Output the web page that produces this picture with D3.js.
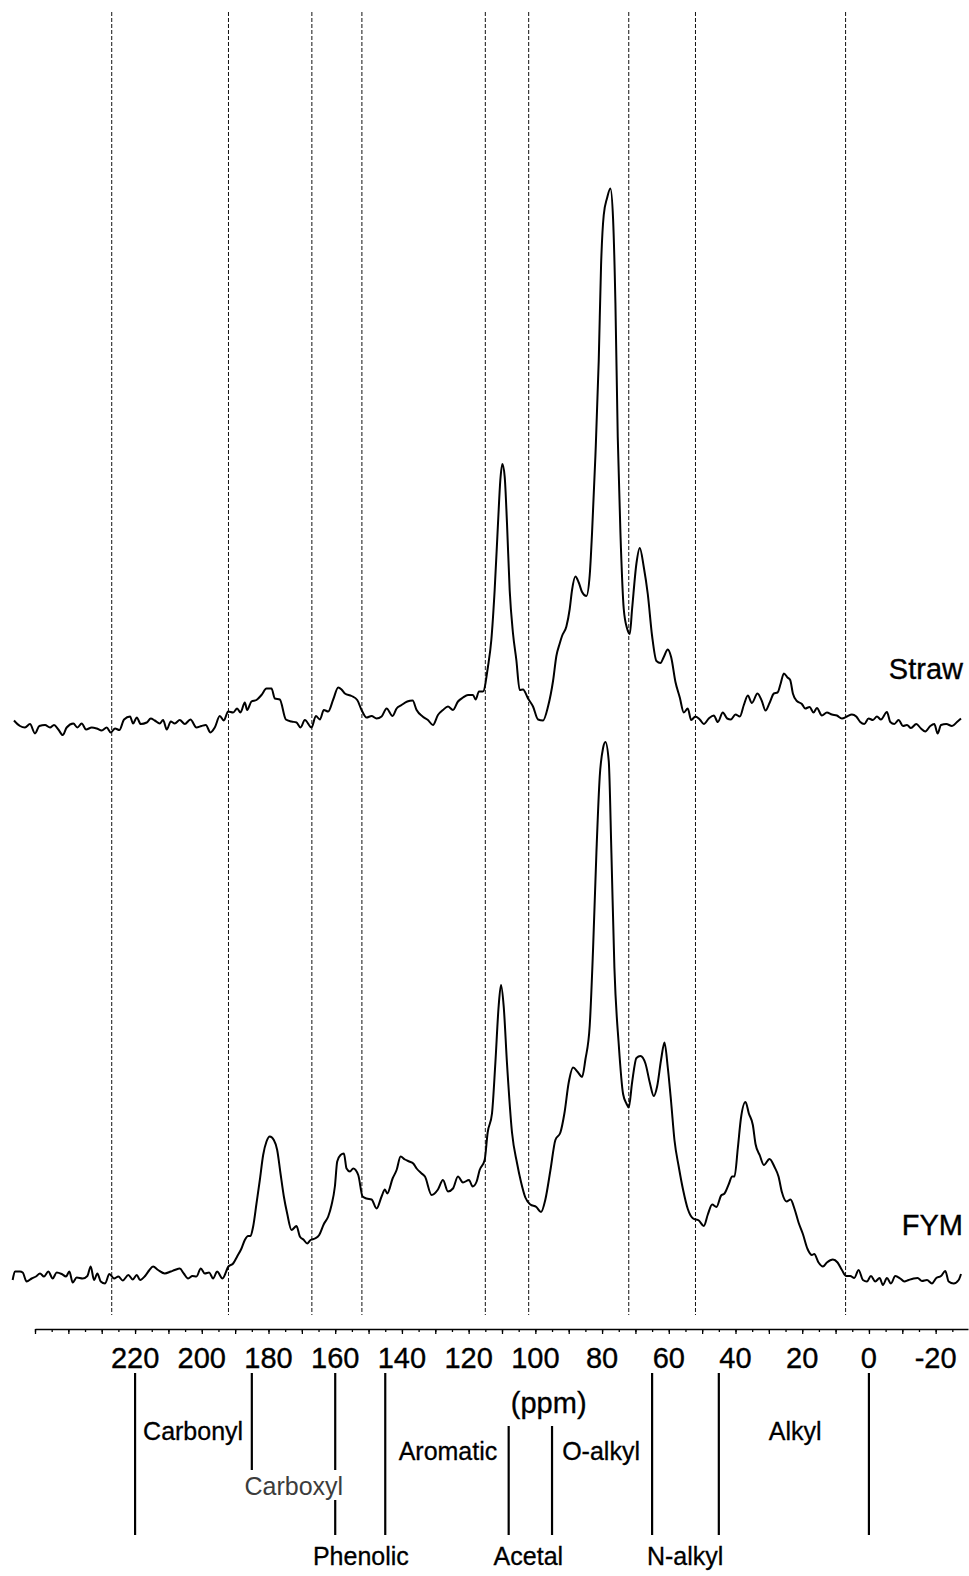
<!DOCTYPE html>
<html><head><meta charset="utf-8">
<script src="https://cdn.jsdelivr.net/npm/d3@7"></script>
<style>html,body{margin:0;padding:0;background:#fff}</style>
</head><body>
<svg id="chart" width="969" height="1576"></svg>
<script>
// ---------- data ----------
const tickLabels = [220,200,180,160,140,120,100,80,60,40,20,0,-20];
const regionBounds = [220,185,160,145,108,95,65,45,0];
const regionNames = ["Carbonyl","Carboxyl","Phenolic","Aromatic","Acetal","O-alkyl","N-alkyl","Alkyl"];
const regionLabelPpm = [202.6,172.4,152.3,126.2,102.1,80.3,55.1,22.1];
const seriesNames = ["Straw","FYM"];
const seriesOffsets = [110, 0];
const spectrumShift = 7;

const straw = [[249.3,1.9],[247.5,0.8],[246.0,0.5],[244.5,1.2],[243.0,-0.7],[241.7,0.8],[240.0,1.0],[238.5,0.5],[237.3,1.0],[236.0,0.1],[234.7,-1.0],[233.5,0.5],[231.5,1.3],[230.3,0.5],[229.0,1.3],[227.7,0.1],[226.0,0.5],[224.5,0.3],[223.0,-0.1],[221.5,0.5],[220.3,-0.5],[219.0,0.3],[217.7,0],[216.3,2.1],[214.5,2.7],[213.6,1.3],[212.5,2.5],[211.3,1.2],[209.5,1.5],[208.3,2.3],[207.1,1.9],[205.6,1.3],[204.6,2.0],[203.5,0.1],[202.3,1.7],[201.1,1.3],[199.6,2.0],[198.1,1.2],[196.4,2.1],[194.6,0.5],[193.1,0.8],[191.8,1.0],[190.4,-0.5],[189.1,0.5],[187.6,2.8],[186.4,1.9],[185.1,3.7],[183.6,3.5],[182.4,4.3],[181.4,3.5],[180.1,5.5],[179.4,4.0],[178.1,5.7],[176.6,6.0],[175.1,7.0],[173.6,8.3],[172.1,8.3],[171.1,6.3],[169.6,6.1],[167.8,2.1],[166.1,1.7],[164.6,1.5],[163.4,0.5],[162.1,2.0],[160.1,0.5],[158.8,2.8],[157.6,2.1],[156.4,4.0],[155.1,3.7],[153.6,6.1],[152.1,8.5],[151.1,8.1],[150.1,7.3],[148.1,6.8],[146.4,6.0],[145.1,4.0],[143.6,2.5],[142.1,2.8],[140.6,2.3],[139.1,2.7],[137.6,4.3],[135.8,2.8],[134.6,4.3],[133.1,5.0],[131.4,5.7],[129.8,5.9],[128.6,4.0],[126.8,2.7],[125.2,2.0],[123.7,1.0],[122.2,3.0],[120.7,4.0],[119.2,4.7],[117.7,4.0],[116.2,5.7],[114.7,6.5],[113.2,7.0],[111.7,7.0],[110.9,6.1],[109.9,7.7],[108.7,7.7],[107.2,12.7],[106.2,18.0],[105.2,28],[104.2,41.3],[103.5,50],[102.9,53.2],[102.2,50.7],[101.5,41.3],[100.7,28],[99.7,19.3],[98.7,14],[97.7,8.0],[96.7,8.1],[95.2,6.3],[93.7,4.7],[92.2,2.1],[90.7,1.9],[89.2,4.7],[87.7,9.8],[86.7,14.8],[85.7,17.3],[85.0,18.8],[83.7,20.7],[82.7,24.2],[82.0,28],[81.0,30.7],[80.0,29.5],[79.0,27.6],[77.7,26.8],[76.7,31],[76.0,39.5],[75.0,54.8],[74.0,73.9],[73.3,93],[72.5,103],[71.5,106.4],[70.5,108.3],[69.7,102.2],[69.0,85.4],[68.3,58.6],[67.5,39.5],[66.5,24.2],[65.5,20.3],[64.7,19.2],[64.0,24.2],[62.7,33.3],[61.7,36.4],[60.5,32.6],[59.3,27.2],[58.0,18.8],[56.7,13.8],[55.5,13.4],[54.5,14.6],[53.3,16.1],[52.3,14.6],[51.0,9.6],[49.7,6.5],[48.5,3.5],[47.3,4.3],[46.3,2.0],[45.0,2.7],[43.7,2.1],[42.5,1.2],[41.0,2.3],[39.5,2.9],[38.3,1.6],[36.8,3.5],[35.5,2.3],[34.4,2.1],[33.0,3.1],[31.7,2.7],[30.5,5.0],[29.3,6.9],[28.1,5.4],[26.4,7.3],[25.1,5.8],[24.0,3.9],[22.8,5.4],[21.5,7.3],[20.4,7.5],[19.5,9.2],[18.5,11.3],[17.4,10.5],[16.6,10],[15.8,7.3],[14.6,5.8],[13.1,5.2],[12.1,4.3],[10.8,4.6],[9.6,3.5],[8.6,4.4],[7.1,2.9],[5.6,3.5],[4.1,3.1],[2.6,2.9],[1.1,2.3],[-0.4,2.7],[-1.9,3.1],[-3.2,2.7],[-4.4,1.6],[-5.6,1.2],[-6.9,2.3],[-8.2,2.0],[-9.4,2.7],[-10.6,2.1],[-12.4,3.6],[-13.4,1.6],[-14.6,1.2],[-15.9,2.0],[-17.2,0.8],[-18.4,1.0],[-19.6,0.4],[-21.2,1.2],[-22.6,0.3],[-23.9,-0.3],[-25.4,0.8],[-26.6,1.2],[-27.6,-0.7],[-28.6,1.0],[-30.2,1.2],[-31.9,0.8],[-33.4,1.6],[-34.6,2.3]];

const fym = [[249.7,0],[249.0,1.7],[247.5,1.7],[246.7,1.5],[245.5,-0.3],[244.0,0.3],[242.7,0.7],[241.5,1.3],[240.3,0.7],[239.0,1.7],[237.7,0.3],[236.5,1.5],[235.0,1.2],[233.7,0.7],[232.7,1.7],[231.7,-0.5],[230.5,0.5],[228.7,0.3],[227.3,0.8],[226.3,2.7],[225.3,0],[224.3,1.3],[223.3,-0.3],[222.0,-0.7],[220.7,1.2],[219.3,0.3],[218.0,0.7],[216.7,-0.1],[215.0,1.0],[213.7,0.1],[212.5,1.0],[211.5,0],[210.0,0.8],[208.8,1.9],[207.6,2.7],[206.1,2.0],[204.1,1.3],[202.3,1.7],[201.1,2.0],[199.6,2.3],[198.4,1.3],[197.1,0.3],[195.8,0.8],[194.6,0.7],[193.3,2.3],[192.1,1.3],[190.8,1.5],[189.6,0.3],[188.4,1.7],[186.8,0.3],[185.0,2.7],[183.6,3.3],[182.4,4.7],[181.1,6.3],[180.1,8.0],[179.1,8.8],[178.4,8.8],[177.6,10.7],[176.6,15.3],[175.6,20],[174.6,25],[173.6,27.7],[172.6,28.7],[171.4,28],[170.4,26],[169.4,21.3],[168.4,16.7],[167.4,13.3],[166.1,10],[164.6,10.8],[163.6,8.7],[162.4,8],[161.4,7.3],[160.4,8],[159.1,8.3],[157.8,9],[156.4,11.2],[155.1,12.7],[154.1,15],[153.1,18.7],[152.4,23.7],[151.4,25],[150.4,25.3],[149.6,22.3],[148.6,21.7],[147.6,22.3],[146.1,21],[144.8,16.7],[143.6,16.3],[142.1,16.1],[140.6,14.3],[139.1,16.7],[138.1,18.1],[137.4,17.3],[135.8,20.3],[134.6,22],[133.4,24.7],[132.1,24.1],[130.8,23.7],[129.6,23.3],[128.6,22.3],[127.1,21.3],[126.1,20.7],[124.1,17],[122.2,18.1],[120.7,20],[119.2,17.7],[117.7,18.3],[116.2,20.7],[114.7,19.5],[112.9,20],[111.8,18.7],[110.6,19.7],[109.7,22],[108.2,24],[107.3,29.5],[106.0,33.3],[105.0,43.3],[104.0,54.8],[103.3,59],[102.5,54.8],[101.5,43.3],[100.0,29.5],[98.5,23.4],[97.3,19.6],[96.0,16.5],[94.5,15.1],[92.7,14.6],[91.3,13.6],[90.0,16.1],[88.5,21.9],[87.0,28],[85.5,29.5],[84.3,33.3],[83.0,39.5],[81.7,42.5],[80.3,41.6],[79.0,40.6],[78.0,44.1],[76.7,50.9],[75.7,66.2],[74.7,85.4],[73.7,100.7],[72.7,106.4],[72.0,107.6],[71.0,103.8],[70.2,85.4],[69.3,62.4],[68.0,47.1],[66.7,37.2],[65.7,35.3],[65.0,34.5],[64.0,39.5],[62.7,44.4],[61.5,44.8],[60.0,43.3],[58.7,39.5],[57.5,36.8],[56.5,38.7],[55.3,44.1],[54.3,47.5],[53.3,42.5],[52.3,35.6],[51.3,28],[50.0,22.6],[48.7,18],[47.3,14.2],[45.7,12.3],[44.0,11.9],[42.5,10.8],[41.3,13.1],[40.0,15.1],[38.7,14.6],[37.3,16.9],[36.3,17.3],[35.0,19.2],[34.0,20.7],[33.3,20.7],[32.3,26.4],[31.4,32.2],[30.0,35.6],[29.0,33.3],[27.8,31],[27.0,27.2],[25.7,24.9],[24.5,23],[22.8,24.2],[21.3,22.6],[20.1,20.7],[19.1,17.6],[17.7,15.7],[16.5,16.1],[15.3,14.2],[14.1,11.5],[12.8,9.2],[11.4,6.2],[10.1,5.0],[9.4,5.2],[8.1,3.5],[6.8,2.7],[5.6,3.5],[3.8,4.1],[2.4,3.5],[1.1,2.0],[-0.2,0.8],[-1.4,0.8],[-2.6,0.4],[-3.9,2.0],[-5.2,0],[-6.4,-0.3],[-7.6,0.8],[-8.9,-0.3],[-10.2,0.4],[-11.2,-1.0],[-12.4,0.4],[-13.6,-0.7],[-14.9,0.8],[-16.4,0.3],[-17.6,-0.3],[-18.9,0],[-20.4,0.3],[-21.6,0.4],[-22.9,-0.2],[-24.4,0],[-25.9,-0.7],[-27.2,0.4],[-28.6,0.8],[-29.9,1.8],[-30.9,-0.3],[-32.4,-0.7],[-33.9,0],[-34.6,1.2]];

const seriesData = [straw, fym];

// ---------- drawing ----------
const FONT = "'Liberation Sans', Arial, Helvetica, sans-serif";
const svg = d3.select("#chart");
svg.append("rect").attr("width",969).attr("height",1576).attr("fill","#fff");

const axisX = d3.scaleLinear().domain([250, -29.7]).range([35, 968]);
const specX = d3.scaleLinear()
  .domain(axisX.domain().map(d => d - spectrumShift))
  .range(axisX.range());
const y = d3.scaleLinear().domain([0, 100]).range([1280, 780]);

// dashed region lines (spectrum frame)
svg.append("g").selectAll("line").data(regionBounds).join("line")
  .attr("x1", d => specX(d)).attr("x2", d => specX(d))
  .attr("y1", 12).attr("y2", 1315)
  .attr("stroke", "#111").attr("stroke-width", 1)
  .attr("stroke-dasharray", "4,2");

// spectra
const line = d3.line()
  .x(d => specX(d[0]))
  .curve(d3.curveMonotoneX);
seriesData.forEach((data, i) => {
  svg.append("path")
    .datum(data)
    .attr("fill", "none")
    .attr("stroke", "#000")
    .attr("stroke-width", 2)
    .attr("stroke-linejoin", "round")
    .attr("d", line.y(d => y(d[1] + seriesOffsets[i])));
  svg.append("text")
    .attr("x", 963).attr("y", y(seriesOffsets[i]) - (i === 0 ? 51 : 45))
    .attr("text-anchor", "end")
    .attr("font-family", FONT).attr("font-size", 29)
    .attr("fill", "#000").attr("stroke", "#000").attr("stroke-width", 0.35)
    .text(seriesNames[i]);
});

// axis
const axisY = 1329;
const minorTicks = d3.range(250, -26, -5);
const majorTicks = d3.range(250, -26, -10);
const gMinor = svg.append("g").attr("transform", `translate(0,${axisY})`)
  .call(d3.axisBottom(axisX).tickValues(minorTicks).tickSize(3).tickSizeOuter(0).tickFormat(""));
const gMajor = svg.append("g").attr("transform", `translate(0,${axisY})`)
  .call(d3.axisBottom(axisX).tickValues(majorTicks).tickSize(5).tickSizeOuter(0).tickFormat(""));
gMajor.select(".domain").remove();
gMinor.select(".domain").attr("stroke", "#000").attr("stroke-width", 1.6);
svg.selectAll(".tick line").attr("stroke", "#000").attr("stroke-width", 1.3);

svg.append("g").selectAll("text").data(tickLabels).join("text")
  .attr("x", d => axisX(d)).attr("y", 1368)
  .attr("text-anchor", "middle")
  .attr("font-family", FONT).attr("font-size", 29)
  .attr("fill", "#000").attr("stroke", "#000").attr("stroke-width", 0.35)
  .text(d => String(d));

svg.append("text")
  .attr("x", axisX(96)).attr("y", 1413)
  .attr("text-anchor", "middle")
  .attr("font-family", FONT).attr("font-size", 29)
  .attr("fill", "#000").attr("stroke", "#000").attr("stroke-width", 0.35)
  .text("(ppm)");

// region boundary solid lines (axis frame)
const segs = [];
regionBounds.forEach(b => {
  let top = (b === 108 || b === 95) ? 1426 : 1373;
  let bottom = (b === 185) ? 1470 : 1535;
  if (b === 160) {
    segs.push([b, top, 1470]);
    segs.push([b, 1500, bottom]);
  } else {
    segs.push([b, top, bottom]);
  }
});
svg.append("g").selectAll("line").data(segs).join("line")
  .attr("x1", d => axisX(d[0])).attr("x2", d => axisX(d[0]))
  .attr("y1", d => d[1]).attr("y2", d => d[2])
  .attr("stroke", "#000").attr("stroke-width", 2.2);

// region labels
const labelBaseline = {"Carbonyl":1440,"Carboxyl":1495,"Phenolic":1565,"Aromatic":1460,
  "Acetal":1565,"O-alkyl":1460,"N-alkyl":1565,"Alkyl":1440};
svg.append("g").selectAll("text").data(regionNames).join("text")
  .attr("x", (d, i) => axisX(regionLabelPpm[i]))
  .attr("y", d => labelBaseline[d])
  .attr("text-anchor", "middle")
  .attr("font-family", FONT).attr("font-size", 25)
  .attr("fill", d => d === "Carboxyl" ? "#3c3c3c" : "#000")
  .attr("stroke", d => d === "Carboxyl" ? "none" : "#000")
  .attr("stroke-width", 0.3)
  .text(d => d);
</script>
</body></html>
